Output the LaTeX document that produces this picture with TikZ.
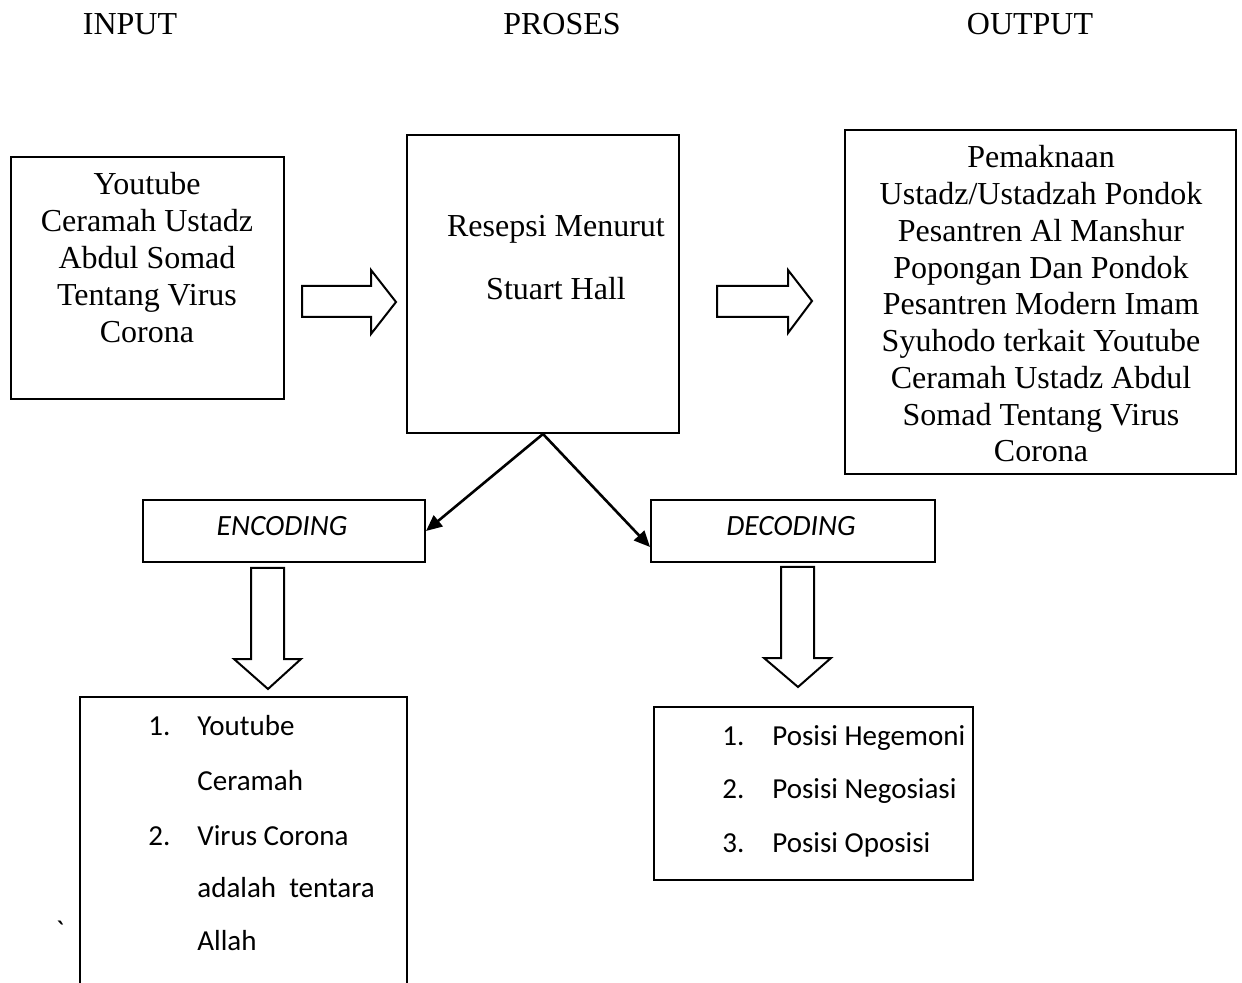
\documentclass[tikz,border=0pt]{standalone}
\usepackage{fontspec}
\setmainfont{Liberation Serif}
\newfontfamily\calibri{Carlito}
\newfontfamily\calibriraw[Ligatures=TeXOff]{Carlito}
\usetikzlibrary{arrows.meta,calc}
\begin{document}
\begin{tikzpicture}[x=0.5pt,y=-0.5pt,
  box/.style={draw, line width=1pt, inner sep=0pt, anchor=north west},
  tnr/.style={font=\fontsize{16pt}{18.5pt}\selectfont, inner sep=0pt, anchor=base},
  cal/.style={font=\calibri\fontsize{14.5pt}{17pt}\selectfont, inner sep=0pt, anchor=base west},
  calit/.style={font=\calibri\itshape\fontsize{14.7pt}{17pt}\selectfont, inner sep=0pt, anchor=base},
  blockarrow/.style={draw, line width=1pt, fill=white, line join=miter},
  link/.style={draw, line width=1.3pt, -{Triangle[length=8pt,width=7pt]}}]
\useasboundingbox[fill=white] (0,0) rectangle (1242,983);

% headers
\node[tnr] (hin) at (130,35) {INPUT};
\node[tnr] (hpro) at (562,35) {PROSES};
\node[tnr] (hout) at (1030,35) {OUTPUT};

% boxes
\node[box, minimum width=136.5pt, minimum height=121pt] (inp) at (10,156) {};
\node[box, minimum width=136pt, minimum height=149pt] (proc) at (406,134) {};
\node[box, minimum width=195.5pt, minimum height=172pt] (out) at (844,129) {};
\node[box, minimum width=141pt, minimum height=31pt] (enc) at (142,499) {};
\node[box, minimum width=142pt, minimum height=31pt] (dec) at (650,499) {};
\node[box, minimum width=159.5pt, minimum height=86.5pt] (list2) at (653,706) {};
\draw[line width=1pt] (80,990) -- (80,697) -- (407,697) -- (407,990);
\coordinate (list1) at (243,697);

% input text
\foreach \t [count=\i from 0] in {Youtube, Ceramah Ustadz, Abdul Somad, Tentang Virus, Corona}
  \node[tnr] (in\i) at (147,{195+37*\i}) {\t};

% process text
\node[tnr] (pr1) at (556,237) {Resepsi Menurut};
\node[tnr] (pr2) at (556,300) {Stuart Hall};

% output text
\foreach \t [count=\i from 0] in {Pemaknaan, Ustadz/Ustadzah Pondok, Pesantren Al Manshur, Popongan Dan Pondok, Pesantren Modern Imam, Syuhodo terkait Youtube, Ceramah Ustadz Abdul, Somad Tentang Virus, Corona}
  \node[tnr] (out\i) at (1041,{168+36.75*\i}) {\t};

% block arrows
\draw[blockarrow] (302,286) -- (371,286) -- (371,270) -- (396,302) -- (371,334) -- (371,317) -- (302,317) -- cycle;
\draw[blockarrow] (717,286) -- (788,286) -- (788,270) -- (812,301) -- (788,333) -- (788,317) -- (717,317) -- cycle;
\draw[blockarrow] (251,568) -- (284,568) -- (284,659) -- (301,659) -- (268,689) -- (234,659) -- (251,659) -- cycle;
\draw[blockarrow] (781,567) -- (814,567) -- (814,658) -- (831,658) -- (798,687) -- (764,658) -- (781,658) -- cycle;

% diagonal connectors
\draw[link] (proc.south) -- (enc.east);
\draw[link] (proc.south) -- ([yshift=-8pt]dec.west);

% encoding / decoding labels
\node[calit] (enct) at (282,536) {ENCODING};
\node[calit] (dect) at (791,536) {DECODING};

% left list
\node[cal] (l1n) at (148,735) {1.};
\node[cal] (l1a) at (197,735) {Youtube};
\node[cal] (l1b) at (197,790) {Ceramah};
\node[cal] (l2n) at (148,845) {2.};
\node[cal] (l2a) at (197,845) {Virus Corona};
\node[cal] (l2b) at (197,897) {adalah\ \ tentara};
\node[cal] (l2c) at (197,950) {Allah};

% right list
\node[cal] (r1n) at (722,745) {1.};
\node[cal] (r1) at (772,745) {Posisi Hegemoni};
\node[cal] (r2n) at (722,798) {2.};
\node[cal] (r2) at (772,798) {Posisi Negosiasi};
\node[cal] (r3n) at (722,852) {3.};
\node[cal] (r3) at (772,852) {Posisi Oposisi};

% stray backtick
\node[font=\calibriraw\fontsize{15pt}{17pt}\selectfont, inner sep=0pt, anchor=base] (tick) at (60,941) {\char96};
\end{tikzpicture}
\end{document}
